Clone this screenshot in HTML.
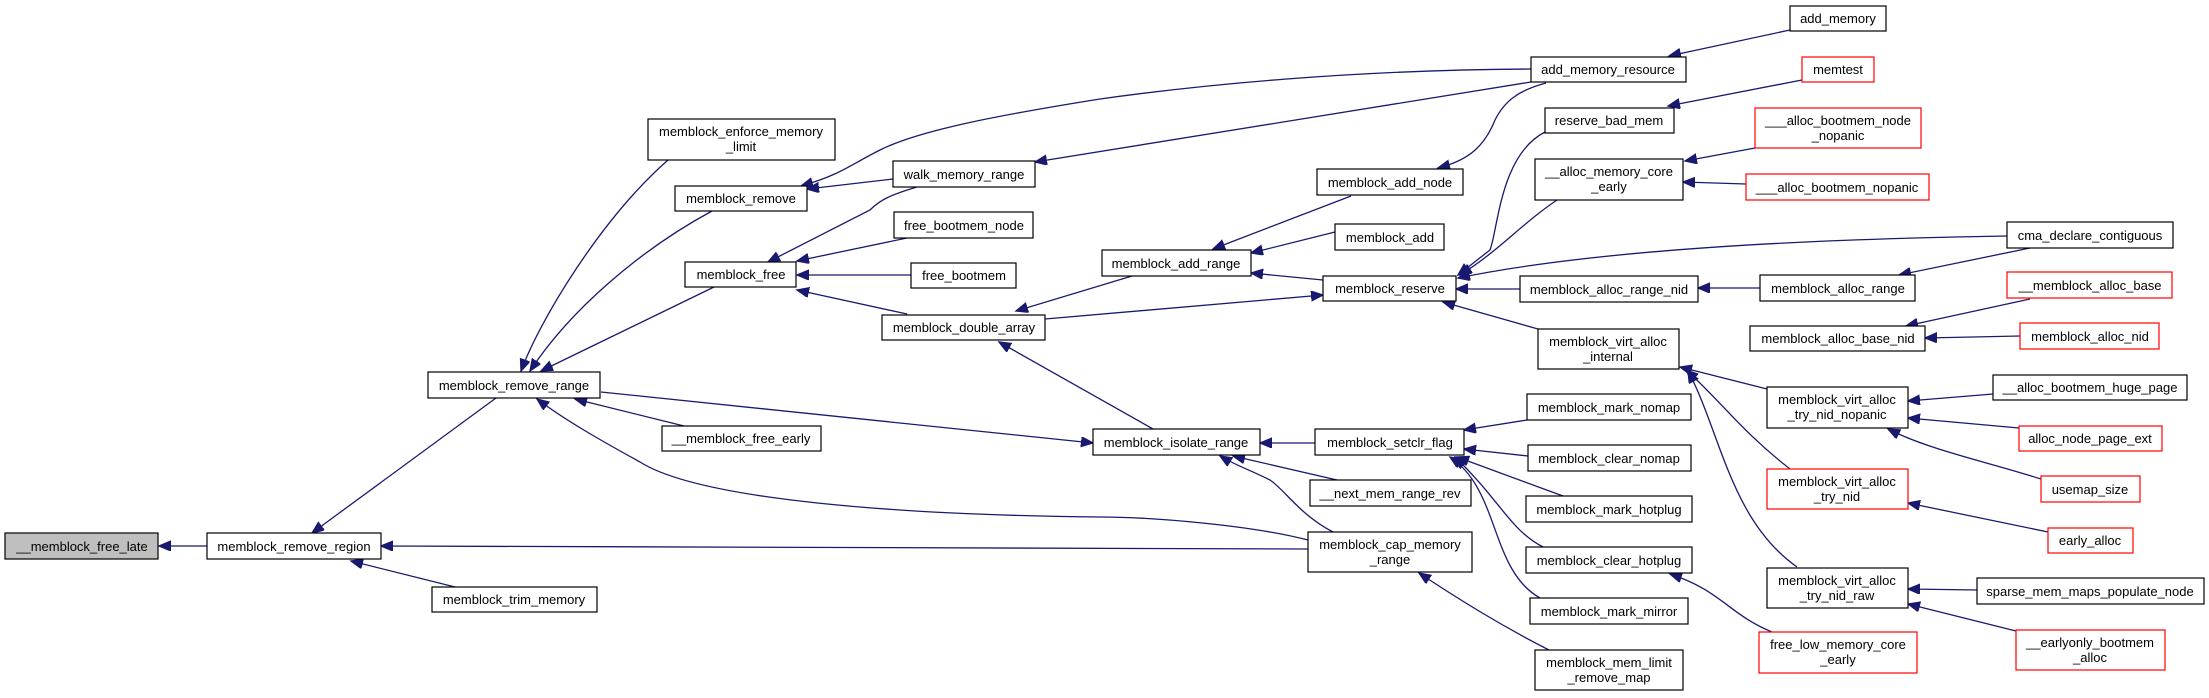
<!DOCTYPE html>
<html><head><meta charset="utf-8"><style>
html,body{margin:0;padding:0;background:#fff}
svg text{font-family:"Liberation Sans",sans-serif;font-size:13px;fill:#000}
rect{fill:#fff;stroke:#000;stroke-width:1.2}
rect.r{stroke:#ff0000}
rect.g{fill:#bfbfbf}
path{fill:none;stroke:#191970;stroke-width:1.3}
</style></head><body>
<svg width="2209" height="693" viewBox="0 0 2209 693" xmlns="http://www.w3.org/2000/svg">
<defs><marker id="a" markerUnits="userSpaceOnUse" markerWidth="14" markerHeight="12" refX="12" refY="5" orient="auto"><path d="M0,0 L12,5 L0,10 Z" style="fill:#191970;stroke:#191970"/></marker></defs>
<g marker-end="url(#a)">
<path d="M207,546 L159,546"/>
<path d="M496,398 L312,533"/>
<path d="M459,588 L351,561"/>
<path d="M668,160 C600,220 540,320 521,371"/>
<path d="M712,211 C640,250 570,310 530,371"/>
<path d="M714,287 L541,371"/>
<path d="M684,426 L575,399"/>
<path d="M601,392 L1093,443"/>
<path d="M1308,540 C1250,525 1150,517 1100,517 C900,515 700,500 640,462 C600,440 565,420 537,399"/>
<path d="M1308,549 L381,546"/>
<path d="M893,179 L807,189"/>
<path d="M1531,69 C1350,70 1200,85 1100,99 C1000,115 920,130 880,150 C850,165 840,175 801,186"/>
<path d="M1531,82 L1035,162"/>
<path d="M917,187 C890,195 880,200 870,210 L768,262"/>
<path d="M907,238 L797,261"/>
<path d="M911,275 L797,275"/>
<path d="M907,314 L797,290"/>
<path d="M1132,276 L1016,311"/>
<path d="M1045,319 L1323,295"/>
<path d="M1153,429 L999,342"/>
<path d="M1351,196 L1213,249"/>
<path d="M1335,232 L1251,253"/>
<path d="M1323,280 L1251,273"/>
<path d="M1546,83 C1520,90 1505,100 1495,120 C1485,145 1470,160 1438,168"/>
<path d="M1790,30 L1669,56"/>
<path d="M1802,80 L1668,106"/>
<path d="M1545,132 C1500,155 1498,230 1490,250 L1458,275"/>
<path d="M1557,200 C1520,225 1500,250 1460,275"/>
<path d="M2007,236 C1750,240 1570,255 1458,278"/>
<path d="M1520,289 L1456,289"/>
<path d="M1538,329 L1443,302"/>
<path d="M1755,148 L1685,161"/>
<path d="M1746,184 L1683,182"/>
<path d="M1760,288 L1698,288"/>
<path d="M2030,248 L1899,275"/>
<path d="M2030,299 L1906,326"/>
<path d="M2020,336 L1925,338"/>
<path d="M1767,389 L1680,367"/>
<path d="M1790,469 C1740,430 1720,400 1686,370"/>
<path d="M1797,567 C1730,520 1720,430 1688,371"/>
<path d="M1993,394 L1908,401"/>
<path d="M2019,428 L1908,418"/>
<path d="M2041,479 C1980,460 1930,450 1888,429"/>
<path d="M2048,532 L1908,503"/>
<path d="M1977,590 L1908,589"/>
<path d="M2016,631 L1908,604"/>
<path d="M1315,443 L1260,443"/>
<path d="M1337,480 L1233,456"/>
<path d="M1333,532 C1300,515 1285,490 1270,480 C1250,470 1235,465 1220,456"/>
<path d="M1527,420 L1464,430"/>
<path d="M1528,456 L1464,449"/>
<path d="M1563,496 L1457,457"/>
<path d="M1543,547 C1510,530 1500,500 1455,457"/>
<path d="M1540,598 C1490,570 1500,490 1450,457"/>
<path d="M1772,632 C1730,615 1720,590 1670,574"/>
<path d="M1549,650 C1500,625 1460,600 1419,573"/>
</g>
<g text-anchor="middle">
<rect class="g" x="5" y="533" width="153" height="26"/><text x="82" y="551">__memblock_free_late</text>
<rect x="207" y="533" width="174" height="26"/><text x="294" y="551">memblock_remove_region</text>
<rect x="432" y="587" width="165" height="25"/><text x="514" y="604">memblock_trim_memory</text>
<rect x="428" y="372" width="172" height="26"/><text x="514" y="390">memblock_remove_range</text>
<rect x="648" y="119" width="187" height="41"/><text x="741" y="136">memblock_enforce_memory</text><text x="741" y="151">_limit</text>
<rect x="675" y="186" width="132" height="25"/><text x="741" y="203">memblock_remove</text>
<rect x="685" y="262" width="111" height="25"/><text x="741" y="279">memblock_free</text>
<rect x="662" y="426" width="159" height="25"/><text x="741" y="443">__memblock_free_early</text>
<rect x="893" y="161" width="142" height="26"/><text x="964" y="179">walk_memory_range</text>
<rect x="894" y="212" width="139" height="26"/><text x="964" y="230">free_bootmem_node</text>
<rect x="911" y="263" width="105" height="25"/><text x="964" y="280">free_bootmem</text>
<rect x="882" y="315" width="163" height="25"/><text x="964" y="332">memblock_double_array</text>
<rect x="1790" y="6" width="96" height="25"/><text x="1838" y="23">add_memory</text>
<rect x="1531" y="57" width="155" height="25"/><text x="1608" y="74">add_memory_resource</text>
<rect class="r" x="1802" y="57" width="72" height="25"/><text x="1838" y="74">memtest</text>
<rect x="1545" y="108" width="129" height="25"/><text x="1609" y="125">reserve_bad_mem</text>
<rect class="r" x="1755" y="108" width="166" height="40"/><text x="1838" y="125">___alloc_bootmem_node</text><text x="1838" y="140">_nopanic</text>
<rect x="1535" y="159" width="148" height="41"/><text x="1609" y="176">__alloc_memory_core</text><text x="1609" y="191">_early</text>
<rect class="r" x="1746" y="174" width="183" height="26"/><text x="1837" y="192">___alloc_bootmem_nopanic</text>
<rect x="1317" y="169" width="146" height="26"/><text x="1390" y="187">memblock_add_node</text>
<rect x="1335" y="224" width="109" height="26"/><text x="1390" y="242">memblock_add</text>
<rect x="1102" y="250" width="149" height="26"/><text x="1176" y="268">memblock_add_range</text>
<rect x="1323" y="276" width="133" height="25"/><text x="1390" y="293">memblock_reserve</text>
<rect x="1520" y="276" width="178" height="26"/><text x="1609" y="294">memblock_alloc_range_nid</text>
<rect x="1760" y="275" width="155" height="26"/><text x="1838" y="293">memblock_alloc_range</text>
<rect x="2007" y="222" width="166" height="26"/><text x="2090" y="240">cma_declare_contiguous</text>
<rect class="r" x="2007" y="272" width="165" height="26"/><text x="2090" y="290">__memblock_alloc_base</text>
<rect x="1750" y="326" width="175" height="25"/><text x="1838" y="343">memblock_alloc_base_nid</text>
<rect class="r" x="2020" y="323" width="139" height="26"/><text x="2090" y="341">memblock_alloc_nid</text>
<rect x="1538" y="329" width="141" height="40"/><text x="1608" y="346">memblock_virt_alloc</text><text x="1608" y="361">_internal</text>
<rect x="1993" y="375" width="194" height="25"/><text x="2090" y="392">__alloc_bootmem_huge_page</text>
<rect x="1767" y="387" width="141" height="41"/><text x="1837" y="404">memblock_virt_alloc</text><text x="1837" y="419">_try_nid_nopanic</text>
<rect class="r" x="2019" y="426" width="143" height="25"/><text x="2090" y="443">alloc_node_page_ext</text>
<rect class="r" x="2041" y="476" width="99" height="26"/><text x="2090" y="494">usemap_size</text>
<rect class="r" x="1767" y="469" width="141" height="40"/><text x="1837" y="486">memblock_virt_alloc</text><text x="1837" y="501">_try_nid</text>
<rect class="r" x="2048" y="528" width="85" height="25"/><text x="2090" y="545">early_alloc</text>
<rect x="1767" y="568" width="141" height="40"/><text x="1837" y="585">memblock_virt_alloc</text><text x="1837" y="600">_try_nid_raw</text>
<rect x="1977" y="578" width="227" height="26"/><text x="2090" y="596">sparse_mem_maps_populate_node</text>
<rect class="r" x="2016" y="630" width="149" height="40"/><text x="2090" y="647">__earlyonly_bootmem</text><text x="2090" y="662">_alloc</text>
<rect x="1093" y="429" width="167" height="26"/><text x="1176" y="447">memblock_isolate_range</text>
<rect x="1315" y="429" width="149" height="26"/><text x="1390" y="447">memblock_setclr_flag</text>
<rect x="1527" y="394" width="164" height="26"/><text x="1609" y="412">memblock_mark_nomap</text>
<rect x="1528" y="445" width="163" height="26"/><text x="1609" y="463">memblock_clear_nomap</text>
<rect x="1310" y="480" width="161" height="26"/><text x="1390" y="498">__next_mem_range_rev</text>
<rect x="1526" y="496" width="166" height="26"/><text x="1609" y="514">memblock_mark_hotplug</text>
<rect x="1308" y="532" width="164" height="40"/><text x="1390" y="549">memblock_cap_memory</text><text x="1390" y="564">_range</text>
<rect x="1526" y="547" width="166" height="26"/><text x="1609" y="565">memblock_clear_hotplug</text>
<rect x="1530" y="598" width="158" height="26"/><text x="1609" y="616">memblock_mark_mirror</text>
<rect x="1535" y="650" width="148" height="40"/><text x="1609" y="667">memblock_mem_limit</text><text x="1609" y="682">_remove_map</text>
<rect class="r" x="1759" y="632" width="158" height="41"/><text x="1838" y="649">free_low_memory_core</text><text x="1838" y="664">_early</text>
</g>
</svg>
</body></html>
